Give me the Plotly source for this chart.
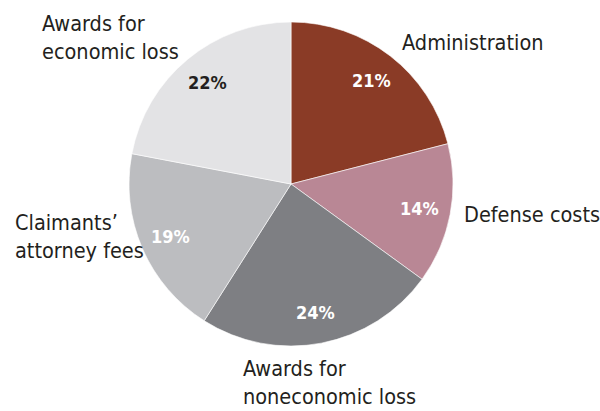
import math
import plotly.graph_objects as go

# Share of total claim costs by component (percent)
categories = ["Administration", "Defense costs", "Awards for noneconomic loss",
              "Claimants\u2019 attorney fees", "Awards for economic loss"]
label_text = ["Administration", "Defense costs", "Awards for<br>noneconomic loss",
              "Claimants\u2019<br>attorney fees", "Awards for<br>economic loss"]
values = [21, 14, 24, 19, 22]
slice_colors = ["#8A3B26", "#B98795", "#7E7F83", "#BCBDC0", "#E3E3E5"]
pct_colors = ["white", "white", "white", "white", "#231F20"]

W, H = 600, 411
CX, CY, R = 291, 184, 162  # pie centre and radius in pixels

FONT = "DejaVu Sans Condensed, Liberation Sans Narrow, Arial Narrow, sans-serif"

fig = go.Figure(go.Pie(
    labels=categories,
    values=values,
    sort=False,
    direction="clockwise",
    rotation=0,
    marker=dict(colors=slice_colors, line=dict(color="white", width=0.6)),
    textinfo="none",
    hoverinfo="label+percent",
    showlegend=False,
    domain=dict(x=[(CX - R) / W, (CX + R) / W], y=[1 - (CY + R) / H, 1 - (CY - R) / H]),
))

annotations = []

# Percent labels placed along each slice's mid-angle
total = sum(values)
cum = 0
for v, col in zip(values, pct_colors):
    mid = (cum + v / 2) / total * 2 * math.pi
    cum += v
    r = 0.81 * R
    px = CX + r * math.sin(mid)
    py = CY - r * math.cos(mid)
    annotations.append(dict(
        x=px / W, y=1 - py / H, xref="paper", yref="paper",
        text=f"<b>{round(v / total * 100)}%</b>", showarrow=False,
        xanchor="center", yanchor="middle",
        font=dict(family=FONT, size=18, color=col),
    ))

# Category labels around the pie (left edge, vertical centre in pixels)
label_pos = [(400, 43), (462, 214), (241, 382), (13, 237), (40, 37)]
for txt, (lx, ly) in zip(label_text, label_pos):
    annotations.append(dict(
        x=lx / W, y=1 - ly / H, xref="paper", yref="paper",
        text=txt, showarrow=False, align="left",
        xanchor="left", yanchor="middle",
        font=dict(family=FONT, size=21.5, color="#231F20"),
    ))

fig.update_layout(
    width=W, height=H,
    margin=dict(l=0, r=0, t=0, b=0),
    paper_bgcolor="white",
    plot_bgcolor="white",
    annotations=annotations,
)

fig.write_html("out.html")
